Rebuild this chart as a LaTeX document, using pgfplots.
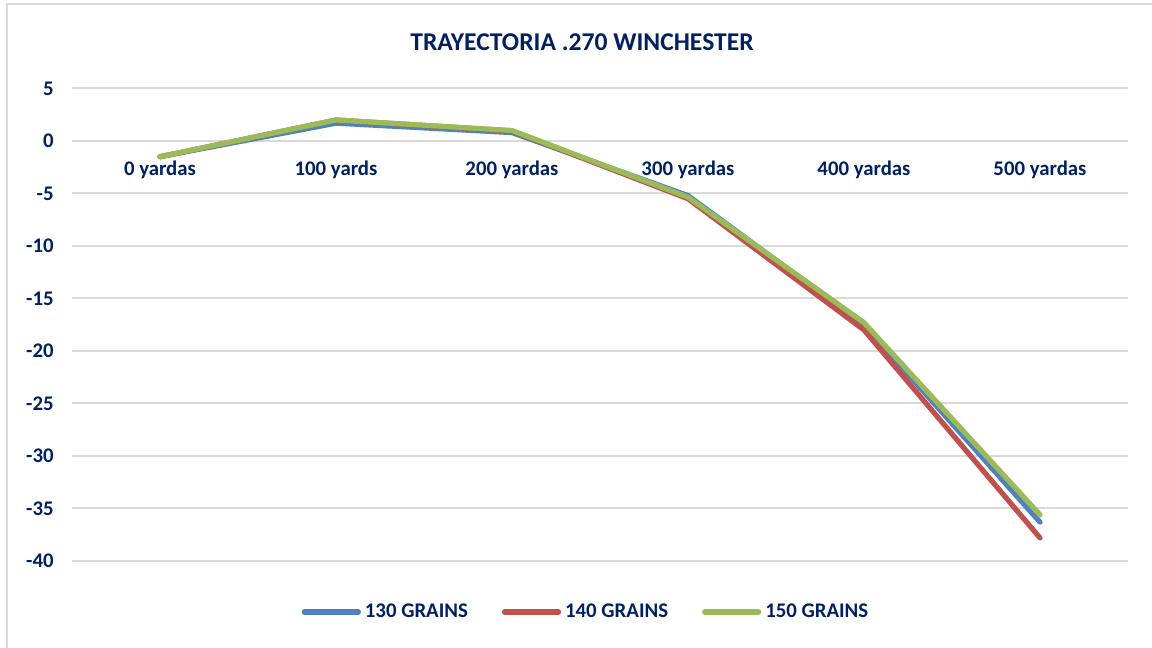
\documentclass[border=0pt]{standalone}
\usepackage{pgfplots}
\pgfplotsset{compat=1.18}
\usepackage{fontspec}
\setmainfont{Carlito}
\definecolor{navy}{RGB}{0,32,96}
\definecolor{c130}{RGB}{79,129,189}
\definecolor{c140}{RGB}{192,80,77}
\definecolor{c150}{RGB}{155,187,89}
\definecolor{gridgray}{RGB}{217,217,217}
\begin{document}
\begin{tikzpicture}
\useasboundingbox (0pt,0pt) rectangle (576pt,324pt);
\begin{scope}
\clip (0pt,0pt) rectangle (576pt,324pt);
\draw[gridgray, line width=0.8pt] (3.5pt,-10pt) -- (3.5pt,322pt) -- (590pt,322pt);
\end{scope}
\node[font=\bfseries\fontsize{12.8pt}{15pt}\selectfont, text=navy] at (291pt,303pt) {TRAYECTORIA .270 WINCHESTER};
\begin{axis}[
  at={(36pt,43.5pt)}, anchor=south west,
  scale only axis, width=528pt, height=236.25pt,
  xmin=-0.5, xmax=5.5, ymin=-40, ymax=5,
  axis x line*=middle, axis y line*=left,
  axis line style={draw=none},
  hide obscured y ticks=false, hide obscured x ticks=false,
  xtick={0,1,2,3,4,5},
  xticklabels={0 yardas,100 yards,200 yardas,300 yardas,400 yardas,500 yardas},
  ytick={-40,-35,-30,-25,-20,-15,-10,-5,0,5},
  yticklabels={-40,-35,-30,-25,-20,-15,-10,-5,0,5},
  major tick length=0pt,
  ymajorgrids, grid style={gridgray, line width=1pt},
  ticklabel style={font=\bfseries\fontsize{10.4pt}{12pt}\selectfont, text=navy},
  xticklabel style={anchor=center, inner sep=0pt, yshift=-14.5pt},
  yticklabel style={anchor=east, inner sep=0pt, xshift=-9pt},
  legend columns=3,
  legend style={draw=none, fill=none, at={(0.4877,-0.1079)}, anchor=center,
    font=\bfseries\fontsize{10.4pt}{12pt}\selectfont, text=navy,
    /tikz/every even column/.append style={column sep=15pt}},
  legend cell align=left,
  legend image code/.code={\draw[#1, line cap=round] (0pt,0pt) -- (27pt,0pt);},
  every axis plot/.append style={line width=2.6pt, line join=round, line cap=round, mark=none},
  clip=false,
]
\addplot[c130] coordinates {(0,-1.5) (1,1.7) (2,0.8) (3,-5.2) (4,-17.5) (5,-36.3)};
\addplot[c140] coordinates {(0,-1.5) (1,2.0) (2,0.95) (3,-5.5) (4,-18.0) (5,-37.8)};
\addplot[c150] coordinates {(0,-1.5) (1,2.0) (2,1.0) (3,-5.35) (4,-17.3) (5,-35.6)};
\legend{130 GRAINS,140 GRAINS,150 GRAINS}
\end{axis}
\end{tikzpicture}
\end{document}
